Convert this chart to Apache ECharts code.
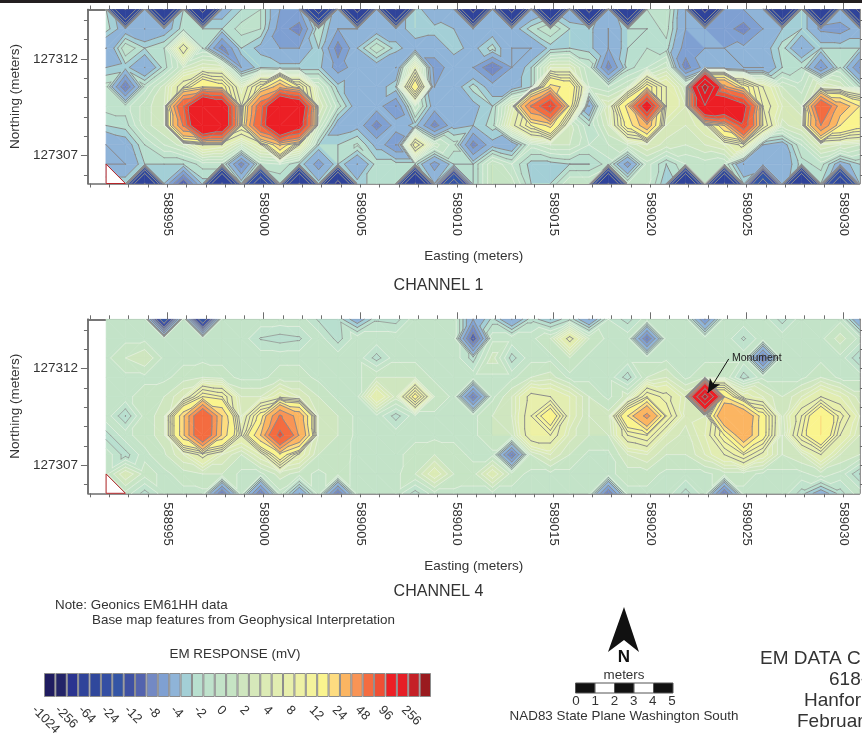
<!DOCTYPE html>
<html>
<head>
<meta charset="utf-8">
<title>EM data channels</title>
<script src="https://cdn.jsdelivr.net/npm/echarts@6/dist/echarts.min.js"></script>
<style>
  html, body { margin: 0; padding: 0; background: #fff; overflow: hidden; }
  #chart { width: 862px; height: 734px; }
</style>
</head>
<body>
<div id="chart"></div>
<script>
// survey nodes: 1 m apart, first easting / first northing of the grid
var firstEasting = 588991.84;
var firstNorthing = 127314.55;

// EM response in mV, one row per northing line (north to south), 40 stations each
var channel1Rows = [
  [-3,-130,-5,-130,-3,-150,-5,-3,-2,-6, -6,-80,-5,-150,-5,-130,-3,-6,-5,-150, -6,-150,-6,-130,-6,-150,-5,-130,-2,-1, -6,-150,-6,-6,-5,-130,-3,-130,-4,-150],
  [-2.5,-5,-6,-5,-2.5,-3,-3,-1.5,-2,-7, -9,-2,-6,-6,-5,-5,-3,-3.5,-4,-6, -5,-5,-2.5,-1,-3,-3.5,-6,-3,-3,-1.5, -6,-6,-7,-9,-6,-4,-3,-6.5,-7,-5],
  [-6,-1,-3,-2,8,-2,-9,-3,-4.5,-6, -6,-3,-9,-4,-1,-3.5,-5,-5,-3.5,-4.5, -2.5,-6,-6,-3.5,-3,-3.5,-6,-3,-2,-2.5, -7,-6,-6,-5.5,-5,-2.5,-6,-3,-3,-3],
  [-4,-3.5,-6,-2.5,1,3,2.5,-6,-3,-3.5, -3.5,-3.5,-7,-5,-5,-6,5,-7,-5,-6, -10,-6,-3,3,3,-1,-9,-2.5,-1,1, -9,-5,-5,-6,-6,-3,-2,-8,-2,-8],
  [-1.5,-10,-1.5,1.5,8,18,14,3,12,30, 12,1,-3.5,-5,-5,-3,16,-6,-5,-2.5, -5,-5,-3,20,16,0,-1,1,14,6, 1,300,40,14,6,1,-0.5,3,2,-2],
  [-1.5,-1.5,0.5,2,70,170,140,6,60,170, 140,3,-1.5,-5,-5,-8,0,-5,-4.5,-4.5, -3,3,50,100,14,-6,3,20,130,6, 3,170,150,110,8,3,1,70,30,18],
  [-3,-2.5,0.5,2,50,170,140,10,70,170, 120,1,-5,-4.5,-9,-5,-3.5,-9,-4.5,-4, -2.5,5,12,20,1.5,-2,2,14,30,3, 2,4,24,90,10,1.5,3,48,18,14],
  [-6,-5,-2,0,1.5,6,5,1,5,25, 6,-3,-3,-1.8,-4.5,-8,10,0.5,-1.5,-9, -4.5,-5.5,-0.5,1,1,-1,0,1,3,1.5, 1,2,3,7,-4,-5,-1,3,2,1],
  [-6,-6,-3,-3,-3,-1.5,-1.5,-9,-1.5,-1, -3,-7,-3,-6,-2.5,-2.5,-2.5,-7,-3,-3, 1,-1,-3.5,-3.5,-3,-3,-1.5,-7,-0.5,-3, -1,-0.5,-1,-6,-5,-5.5,-2.5,-1.5,-5,-3],
  [-3,-3,-130,-4,-12,-3.5,-130,-3,-60,-3, -130,-3.5,-150,-3.5,-2.5,-3,-130,-4,-30,-3, 1,0.5,-3,-3,0,0,-130,-1,-0.5,-4, -130,-0.5,-130,-3,-30,-5,-130,-3,-60,-4]
];
var channel4Rows = [
  [-0.3,-0.3,-0.3,-20,-0.3,-20,-0.3,-0.3,-0.3,-0.3, -0.3,-2.2,-2.3,-5,-2.2,-2.5,-0.3,-0.3,-0.3,-6, -2.6,-6,-2.4,-4,-2.2,-6,-1,-2.5,-0.3,-0.3, -0.3,-8,-0.3,-0.3,-0.3,-2.5,-0.3,-0.3,-0.3,-6],
  [-0.3,-0.3,-0.3,-0.3,-0.3,-0.3,-0.3,-0.3,-2.1,-2.5, -2.2,-0.3,-2.5,-0.3,-0.3,-0.3,-0.3,-0.3,-0.3,-12, -0.3,-0.3,-0.3,1,7,1,-0.3,-0.3,-10,-0.3, -0.3,-0.3,-0.3,-2.2,-0.3,-0.3,-0.3,-0.3,1.5,-0.3],
  [-0.3,1,2,-0.3,-0.3,-0.3,-0.3,-0.3,-0.3,-0.3, -0.3,-0.3,-0.3,-0.3,-2.5,-0.3,-0.3,-0.3,-0.3,-2.5, 1.5,-2.5,-0.3,-0.3,1,-0.3,-0.3,-0.3,-0.3,-0.3, -0.3,-0.3,-0.3,-0.3,-10,-0.3,-0.3,-0.3,-0.3,-3],
  [-0.3,-0.3,-0.3,-0.3,0.5,1,0.5,-0.3,-0.3,0.5, 0.5,-0.3,-0.3,-0.3,1,1,1,-0.3,-0.3,-0.3, -0.3,-0.3,1,1.5,-0.3,-0.3,-0.3,-2.6,1,2, -0.3,1,1,-2.6,-0.3,-0.3,-0.3,1,-0.3,-0.3],
  [-0.3,-0.3,0.5,1,3,12,10,2,2,5, 3,1,-0.3,-0.3,6,1.5,14,1,-0.3,-10, -0.3,2,7,6,4,1,-0.3,1.5,10,7, 3,300,18,5,3,1,3,6,4,1.5],
  [-0.3,-3,0.5,1.5,22,70,24,3,14,50, 30,2,1,-0.3,-0.3,-2.5,-0.3,-0.3,-0.3,-0.3, 1,2,8,16,4,1,1.5,18,40,10, 2.5,3,36,34,14,1.5,8,18,9,3],
  [-2.5,-0.3,0.5,1.5,22,70,22,6,24,80, 35,2,1,-0.3,-0.3,-0.3,-0.3,-0.3,-0.3,-0.3, 1,1,8,8,2.5,1,1,8,10,3, 1.5,4,12,32,14,1,10,18,6,2],
  [-0.3,-2.5,-0.3,0.8,3,7,3,1,4,16, 5,1,0.6,-0.3,-0.3,-0.3,0.5,1,0.5,-0.3, -0.3,-10,1,3,1,-0.3,-0.3,2,3,1, 1,3,6,10,5,1,2,6,2,1],
  [-0.3,3,0.5,-0.3,0.5,1,1,-0.3,-0.3,1.5, 0.5,-0.3,0.5,-0.3,-0.3,-0.3,1,4,1,0.5, 4,0.5,-0.3,-0.3,-0.3,-0.3,-0.3,0.5,0.5,-0.3, -0.3,-0.3,0.5,0.5,-0.3,-0.3,-0.3,0.5,-0.3,-3],
  [-0.3,-0.3,-2.5,-0.3,-0.3,-0.3,-10,-0.3,-10,-0.3, -6,-0.3,-10,-0.3,-0.3,-0.3,-2.5,-0.3,-0.3,-0.3, -0.3,-0.3,-0.3,-0.3,-0.3,-0.3,-10,-0.3,-0.3,-0.3, -2.5,-0.3,-10,-0.3,-0.3,-0.3,-2.5,-5,-2.5,-0.3]
];

// colour scale: band i runs from classBreaks[i] to classBreaks[i + 1]
var classBreaks = [-1024,-512,-256,-128,-64,-40,-24,-16,-12,-10,-8,-6,-4,-3,-2,-1,0,1,2,3,4,6,8,10,12,18,24,36,48,72,96,176,256,512,1024];
var classColors = ['#1f1c60','#232468','#2b3490','#2f439a','#30489c','#344fa3','#3455a5','#3f51a3','#5363ae','#7389c4','#7fa0d2','#8fb4d8','#a3cfd6','#b8dfcf','#bfe2cc','#c3e3c8','#c6e4c4','#cfe6bf','#d6e8ba','#dcebb5','#e2edb1','#e8efac','#eef1a5','#f4f39c','#faf48e','#fddc80','#fbb562','#f99455','#f46c40','#ef4f34','#ec1f25','#e61e26','#c52026','#9a1b1f'];
var legendTicks = ['-1024','-256','-64','-24','-12','-8','-4','-2','0','2','4','8','12','24','48','96','256'];

var eastingMajor = [588995,589000,589005,589010,589015,589020,589025,589030];
var eastingMinor = [];
for (var e = 588991; e <= 589030; e++) eastingMinor.push(e);
var northingMajor = [127307,127312];
var northingMinor = [127306,127307,127308,127309,127310,127311,127312,127313,127314];

// corner of the grid with no coverage
var blankCorner = [[588991.84,127306.55],[588991.84,127305.55],[588992.84,127305.55]];
var monumentArrow = [[589024.07,127312.5],[589022.98,127310.74]];
var scaleLabels = ['0','1','2','3','4','5'];

var FONT = '"Liberation Sans", Arial, sans-serif';
var TEXT = '#333';
var AXIS = '#6e6e6e';

function cut(poly, level, above) {
  var out = [];
  for (var i = 0; i < poly.length; i++) {
    var a = poly[i], b = poly[(i + 1) % poly.length];
    var ina = above ? a[2] >= level : a[2] <= level;
    var inb = above ? b[2] >= level : b[2] <= level;
    if (ina) out.push(a);
    if (ina !== inb) {
      var t = (level - a[2]) / (b[2] - a[2]);
      out.push([a[0] + (b[0] - a[0]) * t, a[1] + (b[1] - a[1]) * t, level]);
    }
  }
  return out;
}

function lineColor(level) {
  // the classes around zero are only traced faintly
  return (level >= -1 && level <= 4) ? '#e6f1e2' : '#8b8b8b';
}

function makeTriangles(rows, api) {
  var tris = [];
  var node = function (k, j) {
    var p = api.coord([firstEasting + k, firstNorthing - j]);
    return [p[0], p[1], rows[j][k]];
  };
  for (var j = 0; j < rows.length - 1; j++) {
    for (var k = 0; k < rows[j].length - 1; k++) {
      var a = node(k, j), b = node(k + 1, j), c = node(k + 1, j + 1), d = node(k, j + 1);
      // split along the diagonal whose ends are closest in value, spikes stay diamonds
      if (Math.abs(a[2] - c[2]) <= Math.abs(b[2] - d[2])) {
        tris.push([a, b, c], [a, c, d]);
      } else {
        tris.push([a, b, d], [b, c, d]);
      }
    }
  }
  return tris;
}

function renderFill(rows) {
  return function (params, api) {
    var children = [];
    makeTriangles(rows, api).forEach(function (tri) {
      var vs = [tri[0][2], tri[1][2], tri[2][2]];
      var lo = Math.min.apply(null, vs), hi = Math.max.apply(null, vs);
      for (var i = 0; i < classColors.length; i++) {
        if (classBreaks[i + 1] < lo || classBreaks[i] > hi) continue;
        var poly = cut(cut(tri, classBreaks[i], true), classBreaks[i + 1], false);
        if (poly.length < 3) continue;
        children.push({
          type: 'polygon',
          shape: { points: poly.map(function (p) { return [p[0], p[1]]; }) },
          style: { fill: classColors[i], stroke: classColors[i], lineWidth: 0.6 }
        });
      }
    });
    return { type: 'group', children: children };
  };
}

function renderLines(rows) {
  return function (params, api) {
    var children = [];
    makeTriangles(rows, api).forEach(function (tri) {
      for (var l = 1; l < classBreaks.length - 1; l++) {
        var level = classBreaks[l] + 1e-6, pts = [];
        for (var i = 0; i < 3; i++) {
          var a = tri[i], b = tri[(i + 1) % 3];
          if ((a[2] < level) !== (b[2] < level)) {
            var t = (level - a[2]) / (b[2] - a[2]);
            pts.push([a[0] + (b[0] - a[0]) * t, a[1] + (b[1] - a[1]) * t]);
          }
        }
        if (pts.length === 2) {
          children.push({
            type: 'line',
            shape: { x1: pts[0][0], y1: pts[0][1], x2: pts[1][0], y2: pts[1][1] },
            style: { stroke: lineColor(classBreaks[l]), lineWidth: level > -2 && level < 5 ? 0.7 : 1, lineCap: 'round' }
          });
        }
      }
    });
    return { type: 'group', children: children };
  };
}

function renderBlank(params, api) {
  var pts = blankCorner.map(function (p) { return api.coord(p); });
  return {
    type: 'polygon',
    shape: { points: pts },
    style: { fill: '#fff', stroke: '#b5252a', lineWidth: 1 }
  };
}

var xBase = {
  type: 'value', min: 588990.9, max: 589030.84,
  splitLine: { show: false },
  axisLine: { onZero: false, lineStyle: { color: AXIS, width: 1.5 } },
  axisTick: { length: 4, lineStyle: { color: AXIS }, customValues: eastingMinor },
  axisLabel: { show: false }
};
var yBase = {
  type: 'value', min: 127305.55, max: 127314.55,
  splitLine: { show: false },
  axisLine: { onZero: false, lineStyle: { color: AXIS, width: 1.5 } },
  axisTick: { length: 4, lineStyle: { color: AXIS }, customValues: northingMinor },
  axisLabel: { show: false }
};

function panelAxes(grid) {
  var xs = [
    echarts.util.merge({
      gridIndex: grid, position: 'bottom', name: 'Easting (meters)', nameLocation: 'middle', nameGap: 66,
      nameTextStyle: { fontFamily: FONT, fontSize: 13.5, color: TEXT },
      axisLabel: {
        show: true, rotate: -90, margin: 9, fontFamily: FONT, fontSize: 13, color: TEXT,
        customValues: eastingMajor, formatter: function (v) { return String(v); }
      }
    }, xBase),
    echarts.util.merge({ gridIndex: grid, position: 'top' }, xBase),
    echarts.util.merge({ gridIndex: grid, position: 'top', axisTick: { length: 7, customValues: eastingMajor } }, xBase)
  ];
  var ys = [
    echarts.util.merge({ gridIndex: grid, position: 'left' }, yBase),
    echarts.util.merge({
      gridIndex: grid, position: 'left', name: 'Northing (meters)', nameLocation: 'middle', nameGap: 64,
      nameTextStyle: { fontFamily: FONT, fontSize: 13.5, color: TEXT },
      axisTick: { length: 7, customValues: northingMajor },
      axisLabel: {
        show: true, margin: 10, fontFamily: FONT, fontSize: 13.5, color: TEXT,
        customValues: northingMajor, formatter: function (v) { return String(v); }
      }
    }, yBase),
    echarts.util.merge({ gridIndex: grid, position: 'right' }, yBase)
  ];
  return { xs: xs, ys: ys };
}

var p0 = panelAxes(0), p1 = panelAxes(1);
var xAxes = p0.xs.concat(p1.xs);
var yAxes = p0.ys.concat(p1.ys);
// colour legend axes
xAxes.push({ type: 'category', gridIndex: 2, show: false, data: classColors.map(function (c, i) { return i; }) });
yAxes.push({ type: 'value', gridIndex: 2, show: false, min: 0, max: 1 });

function panelSeries(rows, xIndex, yIndex) {
  var anchor = [[firstEasting, firstNorthing]];
  return [
    { type: 'custom', xAxisIndex: xIndex, yAxisIndex: yIndex, data: anchor, silent: true, z: 2, renderItem: renderFill(rows), clip: false },
    { type: 'custom', xAxisIndex: xIndex, yAxisIndex: yIndex, data: anchor, silent: true, z: 3, renderItem: renderLines(rows), clip: false },
    { type: 'custom', xAxisIndex: xIndex, yAxisIndex: yIndex, data: anchor, silent: true, z: 4, renderItem: renderBlank, clip: false }
  ];
}

var series = panelSeries(channel1Rows, 0, 0).concat(panelSeries(channel4Rows, 3, 3));
series.push({
  type: 'line', xAxisIndex: 3, yAxisIndex: 3, data: [], z: 6, silent: true,
  markLine: {
    silent: true, animation: false, symbol: ['none', 'arrow'], symbolSize: [9, 14],
    lineStyle: { color: '#111', width: 1, type: 'solid' }, label: { show: false },
    data: [[{ coord: monumentArrow[0] }, { coord: monumentArrow[1] }]]
  }
});
series.push({
  type: 'bar', xAxisIndex: 6, yAxisIndex: 6, barWidth: '100%', silent: true,
  data: classColors.map(function (c) {
    return { value: 1, itemStyle: { color: c, borderColor: '#8c8c8c', borderWidth: 1 } };
  })
});

function label(text, x, y, size, extra) {
  var style = { text: text, fontFamily: FONT, fontSize: size, fill: TEXT, textAlign: 'left', textVerticalAlign: 'middle' };
  if (extra) for (var key in extra) style[key] = extra[key];
  return { type: 'text', x: x, y: y, z: 100, silent: true, style: style };
}

var graphics = [
  { type: 'rect', z: 100, shape: { x: 0, y: 0, width: 862, height: 3 }, style: { fill: '#231f20' }, silent: true },
  label('CHANNEL 1', 438.5, 286, 16, { textAlign: 'center' }),
  label('CHANNEL 4', 438.5, 592, 16, { textAlign: 'center' }),
  label('Monument', 732, 358, 10.5, { fill: '#222' }),
  label('Note: Geonics EM61HH data', 55, 605, 13.4),
  label('Base map features from Geophysical Interpretation', 92, 620, 13.4),
  label('EM RESPONSE (mV)', 235, 654, 13.4, { textAlign: 'center' }),
  { type: 'polygon', z: 100, shape: { points: [[624, 607], [639, 652], [624, 640], [608, 652]] }, style: { fill: '#111' }, silent: true },
  label('N', 624, 657, 17, { textAlign: 'center', fontWeight: 'bold', fill: '#111' }),
  label('meters', 624, 675, 13.4, { textAlign: 'center' }),
  label('NAD83 State Plane Washington South', 624, 716, 13.4, { textAlign: 'center' }),
  label('EM DATA C', 760, 659, 19),
  label('618-', 829, 680, 19),
  label('Hanfor', 804, 701, 19),
  label('Februar', 797, 722, 19)
];
legendTicks.forEach(function (t, i) {
  var item = label(t, 34 + i * 23.1, 708, 13);
  item.rotation = -Math.PI / 4;
  graphics.push(item);
});
// scale bar, one segment per metre
for (var s = 0; s < scaleLabels.length - 1; s++) {
  graphics.push({
    type: 'rect', z: 100, silent: true,
    shape: { x: 575.5 + s * 19.5, y: 683, width: 19.5, height: 10 },
    style: { fill: s % 2 ? '#fff' : '#111', stroke: '#555', lineWidth: 1 }
  });
}
scaleLabels.forEach(function (t, i) {
  graphics.push(label(t, 576 + i * 19.2, 701, 13.4, { textAlign: 'center' }));
});

var chart = echarts.init(document.getElementById('chart'), null, { renderer: 'canvas' });
chart.setOption({
  backgroundColor: '#fff',
  animation: false,
  grid: [
    { left: 86.7, top: 9.5, width: 772.8, height: 174 },
    { left: 86.7, top: 319.3, width: 772.8, height: 174 },
    { left: 44, top: 673, width: 387, height: 24 }
  ],
  xAxis: xAxes,
  yAxis: yAxes,
  series: series,
  graphic: graphics
});
</script>
</body>
</html>
